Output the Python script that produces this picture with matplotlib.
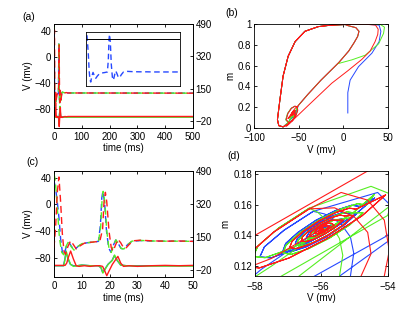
import numpy as np
import matplotlib
matplotlib.use('Agg')
import matplotlib.pyplot as plt

plt.rcParams['font.family'] = ['Liberation Sans', 'DejaVu Sans']
plt.rcParams['font.size'] = 7
plt.rcParams['axes.linewidth'] = 0.6
plt.rcParams['xtick.direction'] = 'in'
plt.rcParams['ytick.direction'] = 'in'
plt.rcParams['xtick.major.size'] = 2.5
plt.rcParams['ytick.major.size'] = 2.5
plt.rcParams['xtick.major.width'] = 0.6
plt.rcParams['ytick.major.width'] = 0.6
plt.rcParams['xtick.major.pad'] = 3
plt.rcParams['ytick.major.pad'] = 2

RED, GREEN, BLUE = '#ff1a1a', '#55ee22', '#2648ff'

# ---- time traces (solid: V on left axis, dashed: right axis) ----
t_red_sol = [0, 4.0, 4.6, 5.3, 6.0, 7.0, 8.0, 9.0, 11, 13, 15, 16.5, 17.5, 18.3, 19.0, 19.8, 21, 22, 23, 24, 25, 27, 30, 35, 40, 45, 50, 500]
red_sol = [-91.5, -91.5, -88, -78, -70, -82, -92, -93, -92, -93, -92, -92, -93, -100, -107, -100, -90, -84, -78, -88,
           -93, -92, -93, -92, -91.5, -92, -91.5, -91.5]
t_green_sol = [0, 3.5, 4.0, 4.4, 5.0, 6.0, 7.0, 8.5, 10, 13, 16, 17.0, 17.6, 18.3, 19.5, 21, 21.8, 22.8, 24, 26, 30, 40, 50, 500]
green_sol = [-92, -92, -82, -70, -80, -90, -93, -92, -91, -92, -92, -95, -103, -98, -90, -84, -76, -84, -91, -92, -92.5, -92.5, -92.5, -92.5]
t_blue_sol = [0, 3.4, 3.9, 4.3, 4.9, 5.9, 7.0, 8.5, 10, 13, 16, 16.9, 17.5, 18.2, 19.4, 20.9, 21.7, 22.7, 24, 26, 30, 40, 50, 500]
blue_sol = [-92, -92, -83, -71, -80, -90, -92, -92, -91, -92, -92, -95, -102, -98, -90, -84, -77, -84, -91, -92, -92, -92, -92, -92]

t_red_dash = [0, 0.6, 1.2, 1.8, 2.4, 3.0, 3.6, 4.2, 5.0, 6.0, 7.0, 8.0, 9.5, 11, 13, 15, 16.5, 17.5, 18.0, 18.5,
              19.0, 19.8, 20.6, 21.3, 22.2, 23.0, 24.0, 25.0, 25.8, 27.0, 28.5, 31, 35, 40, 45, 50, 500]
red_dash = [94, 200, 380, 459, 330, 170, 77, 60, 100, 130, 110, 88, 105, 118, 122, 125, 128, 190, 330, 380,
            330, 180, 95, 77, 110, 138, 120, 95, 91, 110, 130, 133, 130, 128, 129, 127, 126]
t_green_dash = [0, 0.5, 1.2, 2.0, 2.8, 3.5, 4.3, 5.2, 6.2, 7.2, 8.5, 10, 12, 14, 16, 16.8, 17.3, 17.7, 18.3, 19.0,
                19.8, 20.6, 21.5, 22.3, 23.2, 24.2, 25.2, 26.5, 28, 31, 35, 40, 45, 50, 500]
green_dash = [476, 440, 300, 140, 70, 58, 100, 125, 100, 82, 100, 115, 120, 123, 127, 200, 340, 385, 330, 180,
              90, 70, 110, 135, 115, 90, 88, 110, 128, 132, 129, 128, 128, 127, 126]
t_blue_dash = [0, 0.6, 1.2, 1.8, 2.4, 3.0, 3.6, 4.4, 5.3, 6.3, 7.3, 8.6, 10, 12, 14, 16, 16.7, 17.2, 17.6, 18.2,
               18.9, 19.7, 20.5, 21.4, 22.2, 23.1, 24.1, 25.1, 26.4, 28, 31, 35, 40, 45, 50, 500]
blue_dash = [440, 400, 330, 250, 140, 75, 58, 98, 124, 101, 83, 100, 114, 120, 123, 127, 210, 350, 385, 330,
             180, 92, 71, 108, 134, 116, 91, 88, 109, 127, 131, 129, 128, 128, 127, 126]

# ---- phase plane (V, m) pieces ----
loop_down_v = [2, -13, -28, -43, -54, -61.75, -67.4, -71, -73.75, -72.25, -67.4]
loop_down_m = [0.995, 0.99, 0.975, 0.93, 0.83, 0.69, 0.50, 0.27, 0.08, 0.022, 0.01]
spike_v = [-50, -40, -25, -5, 6, 12, 16, 17.5, 14, 5]
spike_m = [0.22, 0.32, 0.46, 0.63, 0.74, 0.82, 0.88, 0.93, 0.965, 0.985]

red_first_v = [-63.6, -40, -13, 5, 20.75, 30, 35.5, 38.5, 39, 36, 24.5]
red_first_m = [0.016, 0.21, 0.43, 0.55, 0.66, 0.74, 0.83, 0.90, 0.95, 0.99, 0.998]
green_first_v = [-5.5, 9.5, 24.5, 39.5, 45, 46, 41, 24]
green_first_m = [0.62, 0.655, 0.70, 0.81, 0.91, 0.97, 0.998, 0.998]
blue_first_v = [5, 5, 7.6, 17, 32, 40, 42, 40, 24]
blue_first_m = [0.144, 0.34, 0.46, 0.59, 0.72, 0.83, 0.93, 0.99, 0.998]

red_appr_a_v = [-62, -57, -53, -51, -51.5, -54, -58, -62, -64, -61, -57, -55.2, -54.8, -54.5, -54.6, -55.0, -55.6]
red_appr_a_m = [0.03, 0.07, 0.12, 0.17, 0.20, 0.21, 0.19, 0.14, 0.08, 0.05, 0.07, 0.09, 0.1135, 0.128, 0.142, 0.152, 0.158]
green_appr_a_v = [-62.5, -57.5, -53.5, -51.5, -52, -54.5, -58.5, -62.5, -64.5, -61.5, -57.5, -55.9, -55.45, -55.35, -55.45, -55.7, -56.1]
green_appr_a_m = [0.032, 0.072, 0.118, 0.168, 0.198, 0.208, 0.188, 0.138, 0.078, 0.05, 0.07, 0.09, 0.1135, 0.127, 0.138, 0.147, 0.155]
blue_appr_a_v = [-62.2, -57.2, -53.2, -51.2, -51.7, -54.2, -58.2, -62.2, -64.2, -61.2, -57.2, -55.6, -55.12, -55.02, -55.12, -55.42, -55.9]
blue_appr_a_m = [0.031, 0.071, 0.119, 0.169, 0.199, 0.209, 0.189, 0.139, 0.079, 0.05, 0.07, 0.09, 0.1135, 0.1285, 0.139, 0.148, 0.154]

red_exit_v = [-57.5, -60.5, -62, -58, -54.6]
red_exit_m = [0.125, 0.10, 0.09, 0.14, 0.182]
green_exit_v = [-57.5, -60, -56.7, -54]
green_exit_m = [0.12, 0.085, 0.113, 0.158]
blue_exit_v = [-57.8, -60, -55.8, -54]
blue_exit_m = [0.118, 0.078, 0.108, 0.136]

red_appr_b_v = [-62, -57, -54.5, -54.1, -53.95, -54.1, -54.6, -55.4]
red_appr_b_m = [0.04, 0.075, 0.10, 0.1135, 0.13, 0.15, 0.163, 0.168]
green_appr_b_v = [-62, -57.2, -54, -53.8, -54.5]
green_appr_b_m = [0.05, 0.1135, 0.153, 0.166, 0.172]
blue_appr_b_v = [-62, -56.2, -54, -53.7, -54.3]
blue_appr_b_m = [0.05, 0.1135, 0.14, 0.155, 0.168]

# spiral rings near the rest point, outermost first
red_ring_v = [-56.36, -57.43, -58.14, -58.30, -57.87, -56.97, -55.84, -54.77, -54.06,
              -54.95, -55.15, -55.56, -56.08, -56.56, -56.88, -56.95, -56.75, -56.34, -55.82, -55.34, -55.02,
              -55.30, -55.43, -55.70, -56.04, -56.35, -56.56, -56.60, -56.47, -56.20, -55.86, -55.55, -55.34,
              -55.53, -55.70, -56.01, -56.29, -56.37, -56.21, -55.89, -55.61,
              -55.69, -55.79, -55.99, -56.16, -56.21, -56.11, -55.91, -55.74,
              -55.81, -55.98, -56.09, -55.93, -55.95]
red_ring_m = [0.1573, 0.1422, 0.1286, 0.1200, 0.1188, 0.1253, 0.1378, 0.1528, 0.1664,
              0.1571, 0.1578, 0.1549, 0.1493, 0.1424, 0.1361, 0.1321, 0.1314, 0.1343, 0.1399, 0.1468, 0.1531,
              0.1527, 0.1533, 0.1515, 0.1479, 0.1433, 0.1392, 0.1365, 0.1359, 0.1377, 0.1414, 0.1459, 0.1500,
              0.1499, 0.1499, 0.1468, 0.1424, 0.1394, 0.1393, 0.1424, 0.1467,
              0.1479, 0.1479, 0.1460, 0.1433, 0.1414, 0.1413, 0.1432, 0.1459,
              0.1464, 0.1455, 0.1428, 0.1438, 0.1446]
green_ring_v = [-56.36, -57.28, -57.90, -58.05, -57.69, -56.92, -55.94, -55.02, -54.40,
                -54.65, -54.90, -55.41, -56.06, -56.66, -57.06, -57.15, -56.90, -56.39, -55.74, -55.14, -54.74,
                -55.05, -55.22, -55.57, -56.01, -56.42, -56.69, -56.75, -56.58, -56.23, -55.80, -55.38, -55.11,
                -55.40, -55.59, -55.96, -56.30, -56.40, -56.21, -55.84, -55.50, -55.90]
green_ring_m = [0.1578, 0.1449, 0.1333, 0.1263, 0.1255, 0.1314, 0.1422, 0.1551, 0.1667,
                0.1598, 0.1607, 0.1571, 0.1501, 0.1415, 0.1336, 0.1286, 0.1277, 0.1313, 0.1384, 0.1469, 0.1548,
                0.1548, 0.1554, 0.1529, 0.1481, 0.1423, 0.1370, 0.1336, 0.1330, 0.1355, 0.1403, 0.1461, 0.1515,
                0.1505, 0.1503, 0.1465, 0.1414, 0.1380, 0.1381, 0.1419, 0.1470, 0.1442]
blue_ring_v = [-56.24, -57.12, -57.71, -57.85, -57.51, -56.78, -55.86, -54.98, -54.39,
               -54.85, -55.08, -55.55, -56.15, -56.70, -57.07, -57.15, -56.92, -56.45, -55.85, -55.30, -54.93,
               -55.22, -55.37, -55.69, -56.10, -56.47, -56.72, -56.78, -56.63, -56.31, -55.90, -55.53, -55.28,
               -55.55, -55.72, -56.06, -56.36, -56.45, -56.28, -55.94, -55.64, -56.00]
blue_ring_m = [0.1557, 0.1434, 0.1326, 0.1260, 0.1254, 0.1311, 0.1414, 0.1536, 0.1644,
               0.1589, 0.1597, 0.1564, 0.1500, 0.1420, 0.1348, 0.1301, 0.1293, 0.1326, 0.1390, 0.1470, 0.1542,
               0.1543, 0.1548, 0.1525, 0.1481, 0.1428, 0.1379, 0.1348, 0.1343, 0.1365, 0.1409, 0.1462, 0.1511,
               0.1501, 0.1500, 0.1466, 0.1420, 0.1389, 0.1391, 0.1424, 0.1470, 0.1445]


def trajectory(first, appr_a, ring, exit_, appr_b):
    # stitch the read pieces in the order the orbit runs through them
    parts = [first, (loop_down_v, loop_down_m), appr_a, ring, exit_, (spike_v, spike_m),
             (loop_down_v, loop_down_m), appr_b, ring]
    v = np.concatenate([p[0] for p in parts])
    m = np.concatenate([p[1] for p in parts])
    return v, m


traj = [
    (BLUE, trajectory((blue_first_v, blue_first_m), (blue_appr_a_v, blue_appr_a_m), (blue_ring_v, blue_ring_m),
                      (blue_exit_v, blue_exit_m), (blue_appr_b_v, blue_appr_b_m))),
    (GREEN, trajectory((green_first_v, green_first_m), (green_appr_a_v, green_appr_a_m), (green_ring_v, green_ring_m),
                       (green_exit_v, green_exit_m), (green_appr_b_v, green_appr_b_m))),
    (RED, trajectory((red_first_v, red_first_m), (red_appr_a_v, red_appr_a_m), (red_ring_v, red_ring_m),
                     (red_exit_v, red_exit_m), (red_appr_b_v, red_appr_b_m))),
]

sol = [(t_blue_sol, blue_sol, BLUE), (t_green_sol, green_sol, GREEN), (t_red_sol, red_sol, RED)]
dash = [(t_blue_dash, blue_dash, BLUE), (t_green_dash, green_dash, GREEN), (t_red_dash, red_dash, RED)]

fig = plt.figure(figsize=(4.15, 3.12), dpi=100)


def time_panel(rect, xmax, xticks):
    ax = fig.add_axes(rect)
    for t, y, c in sol:
        ax.plot(t, y, color=c, lw=1.0)
    ax.set_xlim(0, xmax)
    ax.set_ylim(-109, 50)
    ax.set_yticks([-80, -40, 0, 40])
    ax.set_xticks(xticks)
    ax.tick_params(top=True)
    ax.set_xlabel('time (ms)', labelpad=1)
    ax.set_ylabel('V (mv)', labelpad=1)
    ax2 = ax.twinx()
    for t, y, c in dash:
        ax2.plot(t, y, color=c, lw=1.0, dashes=(5, 3))
    ax2.set_ylim(-57, 490)
    ax2.set_yticks([-20, 150, 320, 490])
    return ax


ax_a = time_panel([0.130, 0.590, 0.335, 0.333], 500, [0, 100, 200, 300, 400, 500])
ax_c = time_panel([0.130, 0.112, 0.335, 0.340], 50, [0, 10, 20, 30, 40, 50])

# inset in (a)
ins = fig.add_axes([0.207, 0.724, 0.2265, 0.173])
ins.plot(t_blue_dash, blue_dash, color=BLUE, lw=1.0, dashes=(4, 2.5))
ins.axhline(350, color='k', lw=0.7)
ins.set_xlim(0, 70)
ins.set_ylim(30, 400)
ins.set_xticks([])
ins.set_yticks([])

# (b) and (d) phase planes
ax_b = fig.add_axes([0.612, 0.590, 0.323, 0.333])
ax_d = fig.add_axes([0.614, 0.115, 0.320, 0.337])
for c, (v, m) in traj:
    ax_b.plot(v, m, color=c, lw=0.7)
    ax_d.plot(v, m, color=c, lw=0.8)

ax_b.set_xlim(-100, 50)
ax_b.set_ylim(0, 1)
ax_b.set_xticks([-100, -50, 0, 50])
ax_b.set_yticks([0, 0.2, 0.4, 0.6, 0.8, 1])
ax_b.set_yticklabels(['0', '0.2', '0.4', '0.6', '0.8', '1'])
ax_b.set_xlabel('V (mv)', labelpad=1)
ax_b.set_ylabel('m', labelpad=2)
ax_b.tick_params(top=True, right=True)
ax_b.tick_params(axis='x', pad=4)

ax_d.set_xlim(-58, -54)
ax_d.set_ylim(0.1135, 0.182)
ax_d.set_xticks([-58, -56, -54])
ax_d.set_yticks([0.12, 0.14, 0.16, 0.18])
ax_d.set_xlabel('V (mv)', labelpad=1)
ax_d.set_ylabel('m', labelpad=2)
ax_d.tick_params(top=True, right=True)
ax_d.tick_params(axis='x', pad=4)

fig.text(0.053, 0.946, '(a)', fontsize=7.5, va='center')
fig.text(0.542, 0.958, '(b)', fontsize=7.5, va='center')
fig.text(0.063, 0.481, '(c)', fontsize=7.5, va='center')
fig.text(0.549, 0.500, '(d)', fontsize=7.5, va='center')

fig.savefig('out.png', dpi=100)
